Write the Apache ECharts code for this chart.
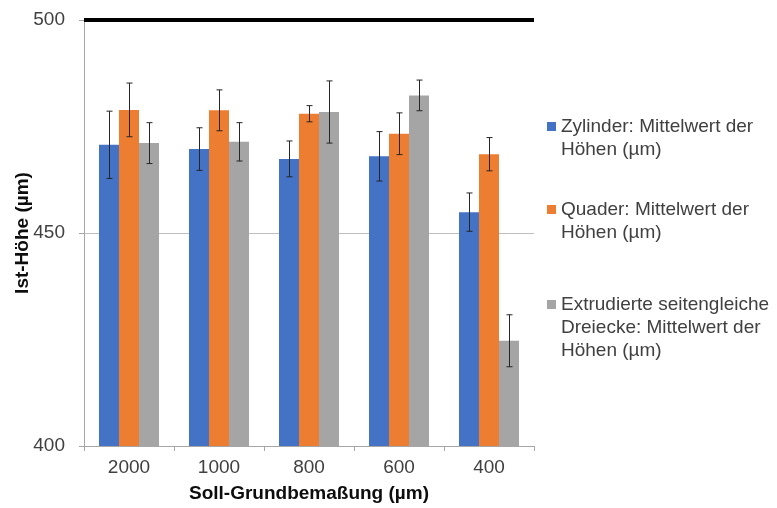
<!DOCTYPE html>
<html>
<head>
<meta charset="utf-8">
<script src="https://cdn.jsdelivr.net/npm/echarts@6/dist/echarts.min.js"></script>
<style>
  html, body { margin: 0; padding: 0; background: #ffffff; }
  #chart { width: 777px; height: 508px; }
</style>
</head>
<body>
<div id="chart"></div>
<script>
// Soll-Grundbemaßung categories
const categories = ['2000', '1000', '800', '600', '400'];

// Mean heights (µm) and their standard deviations
const zylinderMean = [470.7, 469.7, 467.4, 468.0, 454.9];
const zylinderStd  = [7.9, 5.0, 4.2, 5.8, 4.5];
const quaderMean   = [478.9, 478.8, 478.0, 473.3, 468.5];
const quaderStd    = [6.3, 4.8, 1.9, 4.9, 3.9];
const dreieckMean  = [471.1, 471.4, 478.4, 482.3, 424.7];
const dreieckStd   = [4.8, 4.5, 7.3, 3.6, 6.1];

// Target height line
const sollHoehe = 500;

const seriesNames = [
  'Zylinder: Mittelwert der\nHöhen (µm)',
  'Quader: Mittelwert der\nHöhen (µm)',
  'Extrudierte seitengleiche\nDreiecke: Mittelwert der\nHöhen (µm)'
];
const colors = ['#4472C4', '#ED7D31', '#A5A5A5'];

const FONT = '"Liberation Sans", Arial, sans-serif';
const GAP_RATIO = 1 / 3;
const LINE_H = 23;

function barSeries(i, values, extra) {
  return Object.assign({
    type: 'bar',
    name: seriesNames[i],
    data: values,
    barGap: '0%',
    barCategoryGap: '33.3%',
    itemStyle: { color: colors[i] },
    emphasis: { disabled: true },
    z: 2
  }, extra || {});
}

// Vertical error bars with caps, centred on the matching bar of the group
function errorSeries(i, means, stds) {
  return {
    type: 'custom',
    name: 'err' + i,
    silent: true,
    z: 10,
    data: means.map((m, k) => [k, m - stds[k], m + stds[k]]),
    encode: { x: 0, y: [1, 2] },
    renderItem(params, api) {
      const k = api.value(0);
      const lo = api.coord([k, api.value(1)]);
      const hi = api.coord([k, api.value(2)]);
      const band = api.size([1, 0])[0];
      const barW = band * (1 - GAP_RATIO) / 3;
      const cx = Math.round(lo[0] + (i - 1) * barW) + 0.5;
      const cap = 3;
      const st = { stroke: '#262626', lineWidth: 1 };
      return {
        type: 'group',
        children: [
          { type: 'line', shape: { x1: cx, y1: hi[1], x2: cx, y2: lo[1] }, style: st },
          { type: 'line', shape: { x1: cx - cap, y1: hi[1], x2: cx + cap, y2: hi[1] }, style: st },
          { type: 'line', shape: { x1: cx - cap, y1: lo[1], x2: cx + cap, y2: lo[1] }, style: st }
        ]
      };
    }
  };
}

// One legend block per series; leading blank lines keep the marker
// level with the first text line of a wrapped entry
function legendFor(i, top) {
  const lines = seriesNames[i].split('\n').length;
  const pad = '\n'.repeat(lines - 1);
  return {
    data: [seriesNames[i]],
    left: 547,
    top: top,
    padding: 0,
    orient: 'vertical',
    icon: 'rect',
    itemWidth: 9,
    itemHeight: 9,
    selectedMode: false,
    formatter: (name) => pad + name,
    textStyle: {
      fontFamily: FONT,
      fontSize: 19,
      lineHeight: LINE_H,
      color: '#404040'
    }
  };
}

const chart = echarts.init(document.getElementById('chart'), null, { renderer: 'canvas' });

chart.setOption({
  backgroundColor: '#ffffff',
  animation: false,
  textStyle: { fontFamily: FONT },
  grid: {
    left: 84, right: 243, top: 20, bottom: 62,
    containLabel: false,
    outerBoundsMode: 'none'
  },
  legend: [
    legendFor(0, 92),
    legendFor(1, 175),
    legendFor(2, 247)
  ],
  xAxis: {
    type: 'category',
    data: categories,
    name: 'Soll-Grundbemaßung (µm)',
    nameLocation: 'middle',
    nameGap: 38,
    nameMoveOverlap: false,
    nameTextStyle: { fontFamily: FONT, fontSize: 19, fontWeight: 'bold', color: '#0d0d0d' },
    axisLine: { lineStyle: { color: '#a6a6a6', width: 1 } },
    axisTick: { show: true, length: 5, alignWithLabel: false, lineStyle: { color: '#a6a6a6' } },
    axisLabel: { fontFamily: FONT, fontSize: 19, color: '#404040', margin: 12 }
  },
  yAxis: {
    type: 'value',
    min: 400,
    max: 500,
    interval: 50,
    name: 'Ist-Höhe (µm)',
    nameLocation: 'middle',
    nameRotate: 90,
    nameGap: 52,
    nameMoveOverlap: false,
    nameTextStyle: { fontFamily: FONT, fontSize: 19, fontWeight: 'bold', color: '#0d0d0d' },
    axisLine: { show: true, lineStyle: { color: '#a6a6a6', width: 1 } },
    axisTick: { show: true, length: 5, inside: false, lineStyle: { color: '#a6a6a6' } },
    axisLabel: { fontFamily: FONT, fontSize: 19, color: '#404040', margin: 19 },
    splitLine: { show: true, lineStyle: { color: '#bfbfbf', width: 1 } }
  },
  series: [
    barSeries(0, zylinderMean, {
      markLine: {
        silent: true,
        symbol: ['none', 'none'],
        label: { show: false },
        lineStyle: { color: '#000000', width: 4, type: 'solid' },
        data: [{ yAxis: sollHoehe }],
        z: 20
      }
    }),
    barSeries(1, quaderMean),
    barSeries(2, dreieckMean),
    errorSeries(0, zylinderMean, zylinderStd),
    errorSeries(1, quaderMean, quaderStd),
    errorSeries(2, dreieckMean, dreieckStd)
  ]
});
</script>
</body>
</html>
